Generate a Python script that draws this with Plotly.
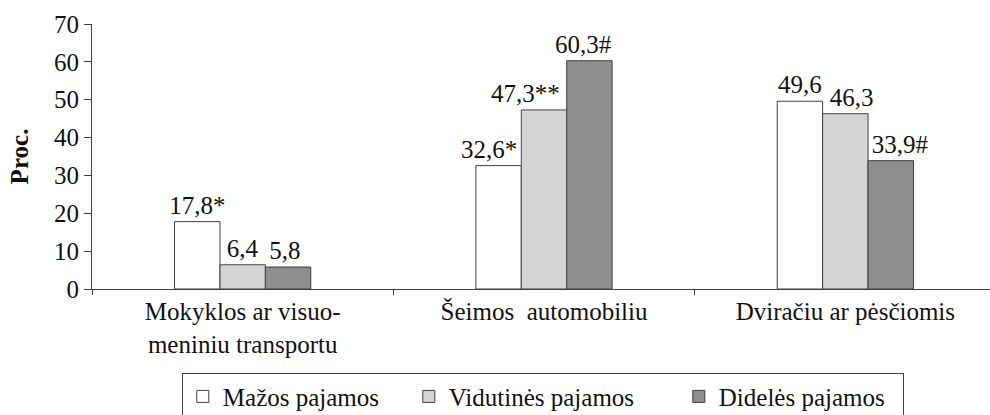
import plotly.graph_objects as go

# Travel-to-school mode by family income group (percent)
categories = ["Mokyklos ar visuo-<br>meniniu transportu", "Šeimos\u00a0 automobiliu", "Dviračiu ar pėsčiomis"]
series_names = ["Mažos pajamos", "Vidutinės pajamos", "Didelės pajamos"]
low_income = [17.8, 32.6, 49.6]
mid_income = [6.4, 47.3, 46.3]
high_income = [5.8, 60.3, 33.9]
low_marks = ["*", "*", ""]
mid_marks = ["", "**", ""]
high_marks = ["", "#", "#"]
y_ticks = [0, 10, 20, 30, 40, 50, 60, 70]

fills = ["#ffffff", "#d4d4d4", "#8e8e8e"]
# nudges for crowded labels (positive = right), counted in no-break spaces of padding
label_nudge = [[0, -3, 0], [0, -6, 2], [-1, -2, 3]]
legend_widths = [181, 225, 179]

FONT = "Liberation Serif"
INK = "#111111"
EDGE = "#404040"
NBSP = "\u00a0"


def label(values, marks, nudges):
    out = []
    for v, m, n in zip(values, marks, nudges):
        s = f"{v:.1f}".replace(".", ",") + m
        pad = NBSP * abs(n)
        out.append(pad + s if n > 0 else s + pad)
    return out


fig = go.Figure()
all_values = [low_income, mid_income, high_income]
all_marks = [low_marks, mid_marks, high_marks]

# filled bars
for i, (name, vals, fill) in enumerate(zip(series_names, all_values, fills)):
    fig.add_trace(go.Bar(
        x=categories, y=vals, name=name, offsetgroup=str(i), legendwidth=legend_widths[i],
        marker=dict(color=fill, line=dict(color=EDGE, width=1)),
        hoverinfo="x+y+name",
    ))

# value labels, layered above every bar
for i, (vals, marks) in enumerate(zip(all_values, all_marks)):
    fig.add_trace(go.Bar(
        x=categories, y=vals, offsetgroup=str(i), showlegend=False, hoverinfo="skip",
        marker=dict(color="rgba(0,0,0,0)", line=dict(width=0)),
        text=label(vals, marks, label_nudge[i]), textposition="outside", constraintext="none",
        textfont=dict(family=FONT, size=25, color=INK), cliponaxis=False,
    ))

fig.update_layout(
    width=990, height=415,
    margin=dict(l=92, r=0, t=24, b=126),
    paper_bgcolor="white", plot_bgcolor="white",
    barmode="group", bargap=0.548, bargroupgap=0,
    font=dict(family=FONT, size=25, color=INK),
    showlegend=True,
    legend=dict(
        orientation="h", x=0.1, xanchor="left",
        yref="container", y=0.102, yanchor="top",
        bordercolor=EDGE, borderwidth=1, bgcolor="white",
        font=dict(family=FONT, size=25, color=INK),
        traceorder="normal",
    ),
    xaxis=dict(
        range=[-0.5, 2.48], showline=True, linecolor=EDGE, linewidth=1,
        ticks="outside", tickson="boundaries", ticklen=5, tickcolor=EDGE,
        showgrid=False, tickfont=dict(family=FONT, size=25, color=INK),
    ),
    yaxis=dict(
        range=[0, 70], tickvals=y_ticks, showline=True, linecolor=EDGE, linewidth=1,
        ticks="outside", ticklen=7, tickcolor=EDGE, showgrid=False, zeroline=False,
        tickfont=dict(family=FONT, size=25, color=INK),
        title=dict(text="<b>Proc.</b>", font=dict(family=FONT, size=25, color=INK), standoff=18),
    ),
)

fig.write_html("out.html")
